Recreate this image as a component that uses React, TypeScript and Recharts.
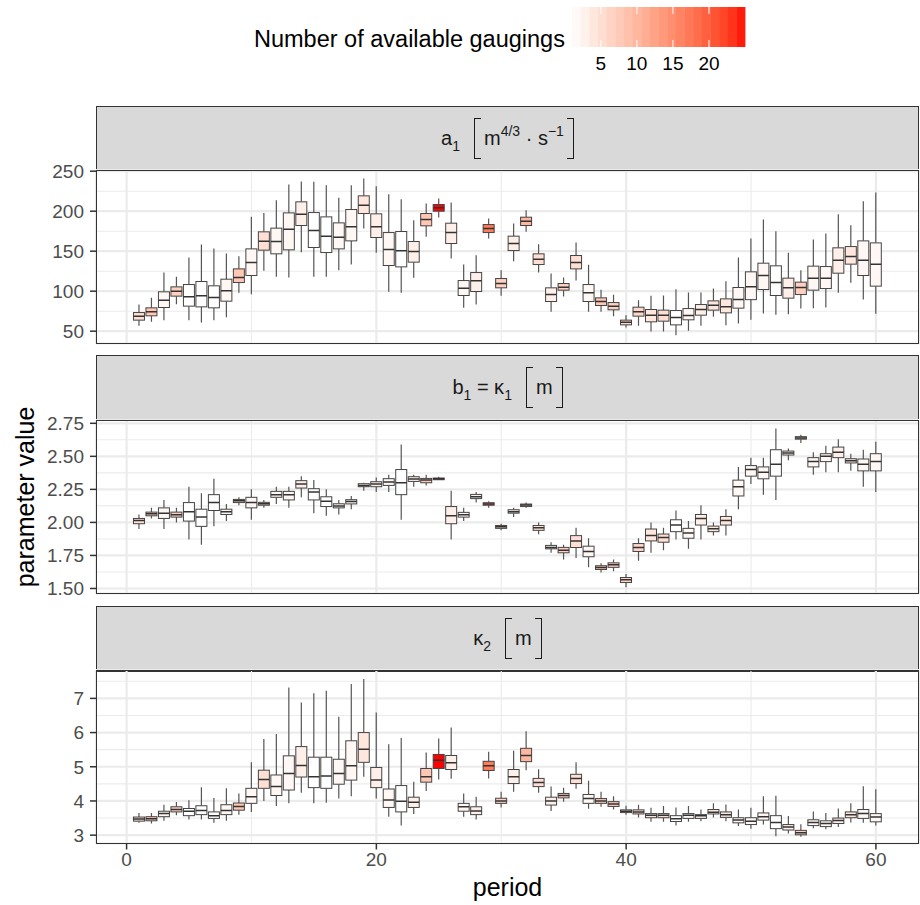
import React from 'react'
import { ComposedChart, Bar, XAxis, YAxis, CartesianGrid } from 'recharts'

const FONT = '"Liberation Sans", Arial, Helvetica, sans-serif'

// periods and number of available gaugings per period
const periods = [
  1, 2, 3, 4, 5, 6, 7, 8, 9, 10, 11, 12, 13, 14, 15, 16, 17, 18, 19, 20,
  21, 22, 23, 24, 25, 26, 27, 28, 29, 30, 31, 32, 33, 34, 35, 36, 37, 38, 39, 40,
  41, 42, 43, 44, 45, 46, 47, 48, 49, 50, 51, 52, 53, 54, 55, 56, 57, 58, 59, 60,
]
const gaugings = [
  5, 8, 2, 7, 1, 1, 1, 2, 8, 2, 5, 2, 2, 3, 1, 1, 2, 2, 4, 3,
  2, 1, 3, 8, 25, 3, 2, 3, 17, 7, 3, 10, 5, 3, 7, 5, 2, 8, 7, 6,
  6, 4, 5, 1, 2, 3, 4, 4, 2, 2, 2, 1, 3, 7, 2, 2, 3, 4, 2, 2,
]

// a1 [m^4/3 s^-1]
const a1Low = [
  56.7, 61.7, 63.8, 83.8, 63.8, 60.8, 63.8, 67.5, 97.9, 96.3, 125.4, 117.9, 117.1, 148.8, 117.9, 117.9, 126.3, 133.3, 178.3, 147.9,
  99.2, 97.9, 116.7, 167.9, 192.1, 140.8, 79.2, 83.3, 165.8, 94.2, 137.5, 174.2, 123.3, 74.2, 93.3, 113.3, 74.2, 74.2, 68.8, 54.6,
  56.7, 49.6, 49.6, 45, 50.4, 56.7, 67.9, 57.5, 59.6, 64.2, 72.1, 70.4, 71.3, 78.3, 78.8, 79.6, 97.9, 110.4, 89.6, 71.7,
]
const a1Q1 = [
  63.8, 69.2, 79.6, 93.8, 81.3, 80.4, 79.2, 87.5, 110.8, 119.6, 151.3, 146.7, 151.7, 182.1, 154.6, 148.3, 152.9, 162.9, 197.1, 167.1,
  132.1, 130.4, 136.3, 181.7, 200, 159.6, 94.6, 99.6, 173.3, 104.2, 150.8, 182.1, 133.3, 87.1, 101.3, 127.9, 87.1, 82.1, 76.7, 57.9,
  68.8, 61.7, 62.5, 57.9, 64.2, 70, 76.3, 72.9, 78.8, 89.4, 102.1, 94.6, 91.3, 95.8, 101.3, 103.3, 122.5, 133.8, 119.6, 106.3,
]
const a1Med = [
  68.8, 74.2, 88.8, 100, 92.9, 94.2, 92.1, 100.4, 117.1, 135.8, 162.5, 162.1, 177.5, 196.3, 175.8, 168.8, 167.5, 180.4, 207.5, 180.4,
  152.1, 150.4, 149.6, 189.6, 204.2, 173.3, 103.8, 112.9, 178.3, 109.6, 159.6, 187.5, 140, 95.8, 105, 135.8, 97.9, 87.1, 81.3, 61.3,
  74.2, 70, 70, 67.1, 69.6, 77.1, 82.5, 80.4, 89.6, 105.4, 119.6, 110.8, 104.2, 104.6, 116.3, 116.3, 138.8, 143.3, 138.8, 133.8,
]
const a1Q3 = [
  73.3, 79.2, 99.2, 105.4, 108.3, 112.1, 106.7, 115, 127.9, 152.9, 174.2, 178.8, 197.9, 211.7, 198.3, 192.9, 185.4, 202.1, 219.2, 196.7,
  173.3, 174.6, 162.1, 197.1, 208.3, 185, 113.3, 123.3, 183.3, 115.8, 168.8, 192.5, 146.7, 104.2, 109.6, 144.6, 108.3, 91.7, 85.8, 63.8,
  80, 77.1, 76.3, 75.8, 78.3, 83.3, 87.9, 90.4, 104.6, 124.2, 135, 131.7, 116.3, 111.3, 131.3, 130.8, 154.2, 155.8, 162.9, 160.4,
]
const a1High = [
  83.3, 91.7, 123.3, 117.9, 142, 158.3, 153.3, 147.1, 143.8, 192.9, 197.9, 213.8, 233.3, 237.1, 236.7, 232.5, 216.7, 232.5, 240.8, 231.3,
  221.3, 215, 188.8, 209.6, 215.8, 210.8, 133.3, 145, 190.8, 126.3, 184.6, 201.3, 158.8, 122.1, 117.1, 160.8, 132.9, 101.7, 95.4, 70,
  88.8, 94.2, 94.6, 102.5, 98.3, 98.3, 103.3, 112.5, 142.1, 165.8, 189.6, 175, 147.9, 126.3, 164.6, 172.1, 196.3, 182.5, 212.5, 223.3,
]

// b1 = kappa1 [m]
const b1Low = [
  1.95, 2.03, 1.95, 2.0, 1.87, 1.83, 1.97, 2.01, 2.13, 2.02, 2.11, 2.14, 2.11, 2.19, 2.07, 2.05, 2.06, 2.1, 2.24, 2.23,
  2.23, 2.02, 2.27, 2.28, 2.32, 1.87, 2.01, 2.15, 2.11, 1.94, 2.04, 2.11, 1.91, 1.77, 1.72, 1.73, 1.66, 1.62, 1.63, 1.51,
  1.71, 1.77, 1.79, 1.87, 1.8, 1.87, 1.9, 1.9, 2.1, 2.29, 2.21, 2.17, 2.47, 2.6, 2.36, 2.38, 2.38, 2.39, 2.27, 2.23,
]
const b1Q1 = [
  1.99, 2.05, 2.03, 2.04, 2.01, 1.97, 2.09, 2.06, 2.15, 2.11, 2.13, 2.19, 2.17, 2.26, 2.17, 2.12, 2.11, 2.14, 2.27, 2.27,
  2.28, 2.21, 2.31, 2.3, 2.323, 1.99, 2.04, 2.18, 2.13, 1.955, 2.07, 2.12, 1.94, 1.8, 1.77, 1.81, 1.74, 1.644, 1.66, 1.545,
  1.78, 1.86, 1.85, 1.93, 1.88, 1.98, 1.93, 1.98, 2.2, 2.35, 2.33, 2.35, 2.51, 2.63, 2.42, 2.46, 2.49, 2.45, 2.39, 2.39,
]
const b1Med = [
  2.015, 2.066, 2.07, 2.058, 2.08, 2.04, 2.15, 2.08, 2.164, 2.15, 2.141, 2.21, 2.21, 2.29, 2.23, 2.16, 2.124, 2.159, 2.28, 2.29,
  2.306, 2.3, 2.328, 2.321, 2.331, 2.05, 2.058, 2.194, 2.139, 1.967, 2.081, 2.131, 1.96, 1.811, 1.79, 1.86, 1.78, 1.659, 1.679, 1.566,
  1.81, 1.9, 1.886, 1.98, 1.92, 2.03, 1.952, 2.015, 2.27, 2.4, 2.38, 2.44, 2.525, 2.639, 2.46, 2.5, 2.53, 2.467, 2.44, 2.46,
]
const b1Q3 = [
  2.03, 2.078, 2.11, 2.078, 2.15, 2.1, 2.21, 2.1, 2.174, 2.19, 2.152, 2.235, 2.235, 2.316, 2.255, 2.194, 2.141, 2.172, 2.293, 2.308,
  2.331, 2.4, 2.346, 2.333, 2.336, 2.12, 2.076, 2.212, 2.149, 1.977, 2.096, 2.139, 1.977, 1.826, 1.811, 1.9, 1.82, 1.672, 1.694, 1.583,
  1.84, 1.95, 1.912, 2.02, 1.955, 2.06, 1.972, 2.045, 2.32, 2.43, 2.42, 2.55, 2.54, 2.649, 2.49, 2.52, 2.57, 2.482, 2.48, 2.52,
]
const b1High = [
  2.06, 2.11, 2.17, 2.11, 2.27, 2.22, 2.33, 2.14, 2.19, 2.25, 2.17, 2.27, 2.27, 2.35, 2.32, 2.25, 2.17, 2.2, 2.3, 2.34,
  2.36, 2.59, 2.36, 2.36, 2.346, 2.24, 2.11, 2.23, 2.16, 1.99, 2.11, 2.15, 2.0, 1.85, 1.83, 1.96, 1.88, 1.69, 1.72, 1.61,
  1.88, 2.0, 1.96, 2.09, 2.01, 2.13, 2.0, 2.1, 2.42, 2.49, 2.49, 2.71, 2.56, 2.664, 2.53, 2.58, 2.63, 2.52, 2.55, 2.61,
]

// kappa2 [m]
const k2Low = [
  3.36, 3.34, 3.42, 3.58, 3.46, 3.46, 3.36, 3.42, 3.6, 3.68, 4.0, 3.85, 3.93, 4.24, 3.93, 3.95, 4.07, 4.14, 4.71, 4.07,
  3.54, 3.28, 3.62, 4.29, 4.63, 4.65, 3.54, 3.46, 4.66, 3.81, 4.27, 4.9, 4.24, 3.71, 3.98, 4.36, 3.77, 3.83, 3.75, 3.6,
  3.52, 3.39, 3.39, 3.28, 3.39, 3.41, 3.52, 3.41, 3.27, 3.19, 3.31, 2.97, 3.05, 2.95, 3.2, 3.17, 3.24, 3.37, 3.36, 3.28,
]
const k2Q1 = [
  3.41, 3.42, 3.54, 3.68, 3.57, 3.6, 3.49, 3.6, 3.73, 3.93, 4.37, 4.16, 4.32, 4.7, 4.39, 4.37, 4.49, 4.61, 5.13, 4.39,
  3.81, 3.68, 3.81, 4.55, 4.95, 4.92, 3.7, 3.6, 4.89, 3.93, 4.51, 5.15, 4.42, 3.88, 4.09, 4.51, 3.93, 3.93, 3.84, 3.66,
  3.62, 3.51, 3.51, 3.4, 3.49, 3.49, 3.62, 3.52, 3.36, 3.31, 3.44, 3.19, 3.15, 3.01, 3.28, 3.25, 3.34, 3.51, 3.49, 3.39,
]
const k2Med = [
  3.47, 3.48, 3.63, 3.75, 3.7, 3.72, 3.57, 3.72, 3.84, 4.12, 4.63, 4.42, 4.8, 5.04, 4.71, 4.73, 4.8, 5.03, 5.51, 4.61,
  4.03, 3.99, 3.96, 4.71, 5.19, 5.12, 3.83, 3.71, 5.03, 4.0, 4.71, 5.33, 4.54, 4.0, 4.16, 4.66, 4.07, 4.0, 3.91, 3.7,
  3.68, 3.58, 3.58, 3.48, 3.58, 3.57, 3.67, 3.6, 3.44, 3.41, 3.54, 3.37, 3.24, 3.07, 3.37, 3.34, 3.43, 3.6, 3.63, 3.53,
]
const k2Q3 = [
  3.53, 3.54, 3.7, 3.83, 3.78, 3.86, 3.68, 3.89, 3.94, 4.37, 4.9, 4.76, 5.32, 5.59, 5.28, 5.28, 5.22, 5.76, 6.0, 4.98,
  4.35, 4.45, 4.11, 4.95, 5.36, 5.33, 3.93, 3.83, 5.16, 4.08, 4.92, 5.54, 4.66, 4.11, 4.22, 4.78, 4.19, 4.07, 3.98, 3.74,
  3.74, 3.63, 3.63, 3.57, 3.63, 3.6, 3.75, 3.68, 3.51, 3.51, 3.65, 3.57, 3.31, 3.14, 3.45, 3.42, 3.5, 3.68, 3.75, 3.63,
]
const k2High = [
  3.65, 3.65, 3.89, 3.97, 4.02, 4.4, 4.09, 4.37, 4.22, 5.13, 5.81, 5.96, 7.32, 6.88, 7.15, 7.22, 6.46, 7.42, 7.57, 6.59,
  5.66, 5.84, 4.56, 5.42, 5.83, 6.15, 4.22, 4.12, 5.44, 4.27, 5.47, 6.04, 4.93, 4.42, 4.39, 5.13, 4.59, 4.27, 4.14, 3.86,
  3.89, 3.8, 3.85, 3.81, 3.85, 3.75, 3.93, 3.9, 3.75, 3.8, 4.14, 4.15, 3.56, 3.32, 3.69, 3.65, 3.78, 3.93, 4.43, 4.34,
]

const xMajor = [0, 20, 40, 60]
const xMinor = [10, 30, 50]
const X_DOMAIN: [number, number] = [-2.45, 63.45]
const N_MIN = 1
const N_MAX = 25

// white -> red ramp interpolated in CIELAB (like ggplot's scale_fill_gradient)
function labToHex(L: number, a: number, b: number) {
  const fy = (L + 16) / 116
  const fx = fy + a / 500
  const fz = fy - b / 200
  const inv = (t: number) => (t > 6 / 29 ? t * t * t : 3 * (6 / 29) * (6 / 29) * (t - 4 / 29))
  const X = 0.95047 * inv(fx), Y = inv(fy), Z = 1.08883 * inv(fz)
  const lin = [
    3.2406 * X - 1.5372 * Y - 0.4986 * Z,
    -0.9689 * X + 1.8758 * Y + 0.0415 * Z,
    0.0557 * X - 0.204 * Y + 1.057 * Z,
  ]
  return '#' + lin.map((c) => {
    const g = c <= 0.0031308 ? 12.92 * c : 1.055 * Math.pow(c, 1 / 2.4) - 0.055
    const v = Math.round(Math.max(0, Math.min(1, g)) * 255)
    return v.toString(16).padStart(2, '0')
  }).join('')
}
function gaugeColor(n: number) {
  const t = Math.max(0, Math.min(1, (n - N_MIN) / (N_MAX - N_MIN)))
  return labToHex(100 + (53.24 - 100) * t, 80.09 * t, 67.2 * t)
}

function BoxShape(props: any) {
  const { x, y, width, height, payload } = props
  if (!payload || !Number.isFinite(y) || !Number.isFinite(height)) return null
  const top = Math.min(y, y + height)
  const bot = Math.max(y, y + height)
  const span = payload.high - payload.low
  const py = (v: number) => bot - ((v - payload.low) / span) * (bot - top)
  const cx = x + width / 2
  return (
    <g>
      <line x1={cx} x2={cx} y1={py(payload.high)} y2={py(payload.q3)} stroke="#555" strokeWidth={1.2} />
      <line x1={cx} x2={cx} y1={py(payload.q1)} y2={py(payload.low)} stroke="#555" strokeWidth={1.2} />
      <rect
        x={x}
        y={py(payload.q3)}
        width={width}
        height={Math.max(0.5, py(payload.q1) - py(payload.q3))}
        fill={gaugeColor(payload.n)}
        stroke="#444"
        strokeWidth={1}
      />
      <line x1={x} x2={x + width} y1={py(payload.med)} y2={py(payload.med)} stroke="#333" strokeWidth={1.5} />
    </g>
  )
}

function rowsOf(low: number[], q1: number[], med: number[], q3: number[], high: number[]) {
  return periods.map((p, i) => ({
    period: p, n: gaugings[i], low: low[i], q1: q1[i], med: med[i], q3: q3[i], high: high[i],
  }))
}

const PLOT_H = 173.5
const PAD = 14
const tickStyle = { fontSize: 19, fill: '#4D4D4D', fontFamily: FONT }

interface PanelProps {
  top: number
  rows: any[]
  domain: [number, number]
  major: number[]
  minor: number[]
  fmt: (v: number) => string
  showX?: boolean
}

function Panel({ top, rows, domain, major, minor, fmt, showX }: PanelProps) {
  const axisH = showX ? 50 : 0
  return (
    <div style={{ position: 'absolute', left: 0, top: top - PAD }}>
      <ComposedChart
        width={920}
        height={PLOT_H + PAD + (showX ? axisH : PAD)}
        data={rows}
        margin={{ top: PAD, right: 1, bottom: showX ? 0 : PAD, left: 0 }}
        barCategoryGap="5%"
      >
        <XAxis xAxisId="min" type="number" dataKey="period" domain={X_DOMAIN} ticks={xMinor} allowDataOverflow hide />
        <XAxis
          xAxisId="maj"
          type="number"
          dataKey="period"
          domain={X_DOMAIN}
          ticks={xMajor}
          interval={0}
          allowDataOverflow
          hide={!showX}
          height={axisH}
          axisLine={false}
          tickSize={6}
          tickMargin={3}
          tickLine={{ stroke: '#333', strokeWidth: 1.5 }}
          tick={tickStyle}
        />
        <YAxis yAxisId="min" type="number" domain={domain} ticks={minor} allowDataOverflow hide />
        <YAxis
          yAxisId="maj"
          type="number"
          domain={domain}
          ticks={major}
          interval={0}
          allowDataOverflow
          width={96}
          axisLine={false}
          tickSize={6}
          tickMargin={6}
          tickLine={{ stroke: '#333', strokeWidth: 1.5 }}
          tick={tickStyle}
          tickFormatter={fmt}
        />
        <CartesianGrid xAxisId="min" yAxisId="min" stroke="#EBEBEB" strokeWidth={1.1} />
        <CartesianGrid xAxisId="maj" yAxisId="maj" stroke="#EBEBEB" strokeWidth={2.2} />
        <Bar
          xAxisId="maj"
          yAxisId="maj"
          dataKey={(d: any) => [d.low, d.high]}
          shape={<BoxShape />}
          isAnimationActive={false}
        />
      </ComposedChart>
    </div>
  )
}

function Bracket({ side }: { side: 'l' | 'r' }) {
  const line = '1.6px solid #1A1A1A'
  return (
    <span
      style={{
        display: 'inline-block',
        width: 7,
        height: 41,
        boxSizing: 'border-box',
        borderTop: line,
        borderBottom: line,
        borderLeft: side === 'l' ? line : 'none',
        borderRight: side === 'r' ? line : 'none',
        margin: side === 'l' ? '0 3px 0 0' : '0 0 0 3px',
      }}
    />
  )
}
const Sub = ({ children }: any) => <span style={{ fontSize: 14, position: 'relative', top: 6 }}>{children}</span>
const Sup = ({ children }: any) => <span style={{ fontSize: 14, position: 'relative', top: -9 }}>{children}</span>

function Strip({ top, children }: any) {
  return (
    <div
      style={{
        position: 'absolute', left: 96, top, width: 823, height: 65.5, boxSizing: 'border-box',
        background: '#D9D9D9', border: '1.6px solid #333',
        display: 'flex', alignItems: 'center', justifyContent: 'center',
        fontFamily: FONT, fontSize: 20, color: '#1A1A1A', whiteSpace: 'pre',
      }}
    >
      {children}
    </div>
  )
}

function Frame({ top }: { top: number }) {
  return (
    <div
      style={{
        position: 'absolute', left: 96, top, width: 823, height: PLOT_H + 0.5,
        boxSizing: 'border-box', border: '1.6px solid #333', pointerEvents: 'none',
      }}
    />
  )
}

function Legend() {
  const x0 = 572, x1 = 745, y0 = 7, y1 = 47
  const bins = 20
  const bw = (x1 - x0) / bins
  const pos = (v: number) => x0 + ((v - N_MIN) / (N_MAX - N_MIN)) * (x1 - x0)
  return (
    <svg width={920} height={90} style={{ position: 'absolute', left: 0, top: 0 }}>
      <text x={254} y={47} fontFamily={FONT} fontSize={23.5} fill="#000">Number of available gaugings</text>
      {Array.from({ length: bins }, (_, i) => (
        <rect key={i} x={x0 + i * bw} y={y0} width={bw + 0.4} height={y1 - y0}
          fill={gaugeColor(N_MIN + ((i + 0.5) / bins) * (N_MAX - N_MIN))} />
      ))}
      {[5, 10, 15, 20].map((v) => (
        <g key={v}>
          <line x1={pos(v)} x2={pos(v)} y1={y0} y2={y0 + 7} stroke="#fff" strokeWidth={1} />
          <line x1={pos(v)} x2={pos(v)} y1={y1 - 7} y2={y1} stroke="#fff" strokeWidth={1} />
          <text x={pos(v)} y={70} textAnchor="middle" fontFamily={FONT} fontSize={19} fill="#000">{v}</text>
        </g>
      ))}
    </svg>
  )
}

const aRows = rowsOf(a1Low, a1Q1, a1Med, a1Q3, a1High)
const bRows = rowsOf(b1Low, b1Q1, b1Med, b1Q3, b1High)
const kRows = rowsOf(k2Low, k2Q1, k2Med, k2Q3, k2High)

export default function App() {
  return (
    <div style={{ position: 'absolute', left: 0, top: 0, width: 920, height: 905, background: '#fff', fontFamily: FONT }}>
      <Legend />

      <Strip top={106}>
        <span>a<Sub>1</Sub></span>
        <span style={{ width: 14, display: 'inline-block' }} />
        <Bracket side="l" />
        <span>m<Sup>4/3</Sup> · s<Sup>−1</Sup></span>
        <Bracket side="r" />
      </Strip>
      <Panel top={170} rows={aRows} domain={[34.6, 251.5]} major={[50, 100, 150, 200, 250]}
        minor={[75, 125, 175, 225]} fmt={(v) => String(v)} />
      <Frame top={170} />

      <Strip top={355}>
        <span>b<Sub>1</Sub> = κ<Sub>1</Sub></span>
        <span style={{ width: 14, display: 'inline-block' }} />
        <Bracket side="l" />
        <span>m</span>
        <Bracket side="r" />
      </Strip>
      <Panel top={420} rows={bRows} domain={[1.462, 2.775]} major={[1.5, 1.75, 2, 2.25, 2.5, 2.75]}
        minor={[1.625, 1.875, 2.125, 2.375, 2.625]} fmt={(v) => v.toFixed(2)} />
      <Frame top={420} />

      <Strip top={606}>
        <span>κ<Sub>2</Sub></span>
        <span style={{ width: 14, display: 'inline-block' }} />
        <Bracket side="l" />
        <span>m</span>
        <Bracket side="r" />
      </Strip>
      <Panel top={670} rows={kRows} domain={[2.756, 7.83]} major={[3, 4, 5, 6, 7]}
        minor={[3.5, 4.5, 5.5, 6.5, 7.5]} fmt={(v) => String(v)} showX />
      <Frame top={670} />

      <div style={{
        position: 'absolute', left: 25, top: 497, transform: 'translate(-50%, -50%) rotate(-90deg)',
        fontSize: 25, color: '#000', whiteSpace: 'nowrap',
      }}>parameter value</div>
      <div style={{
        position: 'absolute', left: 507.5, top: 887, transform: 'translate(-50%, -50%)',
        fontSize: 25, color: '#000', whiteSpace: 'nowrap',
      }}>period</div>
    </div>
  )
}
